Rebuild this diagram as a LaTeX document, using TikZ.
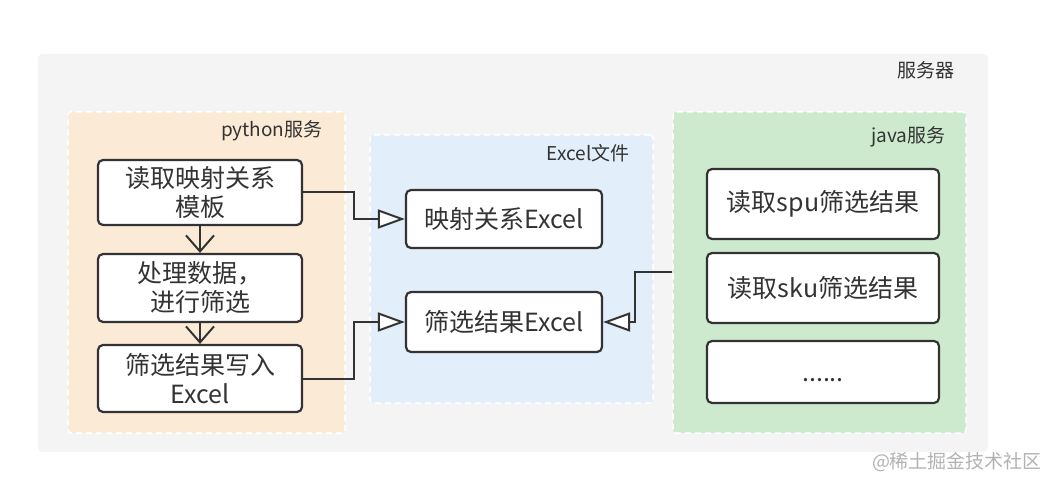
\documentclass[tikz,border=0pt]{standalone}
\usepackage{fontspec}
\setmainfont{Noto Sans CJK SC}
\usetikzlibrary{arrows.meta}
\definecolor{txt}{HTML}{333333}
\definecolor{srvbg}{HTML}{F4F4F4}
\definecolor{pybg}{HTML}{FBEBD6}
\definecolor{xlbg}{HTML}{E2EEF9}
\definecolor{jvbg}{HTML}{CDEACE}
\tikzset{
  group/.style={draw=white, line width=1.5pt, dash pattern=on 6pt off 4pt, rounded corners=3pt},
  box/.style={draw=txt, fill=white, line width=2.2pt, rounded corners=5pt, text=txt, align=center,
    font=\fontsize{25}{29}\selectfont, inner sep=0pt},
  grouplabel/.style={text=txt, font=\fontsize{19}{22}\selectfont, anchor=east},
  flow/.style={draw=txt, line width=2pt, -{Straight Barb[length=16pt,width=28pt,line width=2pt]}},
  link/.style={draw=txt, line width=2pt, -{Triangle[open,length=27pt,width=19pt,line width=2pt,fill=white]}}
}
\begin{document}
\begin{tikzpicture}[x=1pt,y=-1pt]
\useasboundingbox (0,0) rectangle (1053,489);
% server background
\node[fill=srvbg, rounded corners=4pt, minimum width=950pt, minimum height=398pt, inner sep=0pt] (srv) at (513,253) {};
\node[grouplabel, anchor=center] (srvlab) at (926,70) {服务器};
% groups
\node[group, fill=pybg, minimum width=277pt, minimum height=321pt] (py) at (206.5,272.5) {};
\node[group, fill=xlbg, minimum width=283pt, minimum height=268pt] (xl) at (511.5,269) {};
\node[group, fill=jvbg, minimum width=293pt, minimum height=321pt] (jv) at (819.5,272.5) {};
\node[grouplabel] (pylab) at (326,131) {python服务};
\node[grouplabel] (xllab) at (633,153) {Excel文件};
\node[grouplabel] (jvlab) at (949,137) {java服务};
% python steps
\node[box, minimum width=204pt, minimum height=65pt] (read) at (200,192.5) {读取映射关系\\模板};
\node[box, minimum width=204pt, minimum height=68pt] (proc) at (200,288) {处理数据，\\进行筛选};
\node[box, minimum width=204pt, minimum height=67pt] (write) at (200,378.5) {筛选结果写入\\Excel};
% excel files
\node[box, minimum width=196pt, minimum height=58pt] (map) at (504,219) {映射关系Excel};
\node[box, minimum width=196pt, minimum height=60pt] (res) at (504,322) {筛选结果Excel};
% java steps
\node[box, minimum width=232pt, minimum height=70pt] (spu) at (823,204) {读取spu筛选结果};
\node[box, minimum width=232pt, minimum height=70pt] (sku) at (823,288) {读取sku筛选结果};
\node[box, minimum width=232pt, minimum height=62pt] (more) at (823,372) {\vphantom{读}......};
% connectors
\draw[flow] (read) -- (proc);
\draw[flow] (proc) -- (write);
\draw[link] (read.east) -- ++(51,0) |- (map.west);
\draw[link] (write.east) -- ++(51,0) |- (res.west);
\draw[link] (jv.west) -- ++(-37,0) |- (res.east);
% watermark
\node[text=black!30, font=\fontsize{19}{22}\selectfont] (wm) at (957,462) {@稀土掘金技术社区};
\end{tikzpicture}
\end{document}
